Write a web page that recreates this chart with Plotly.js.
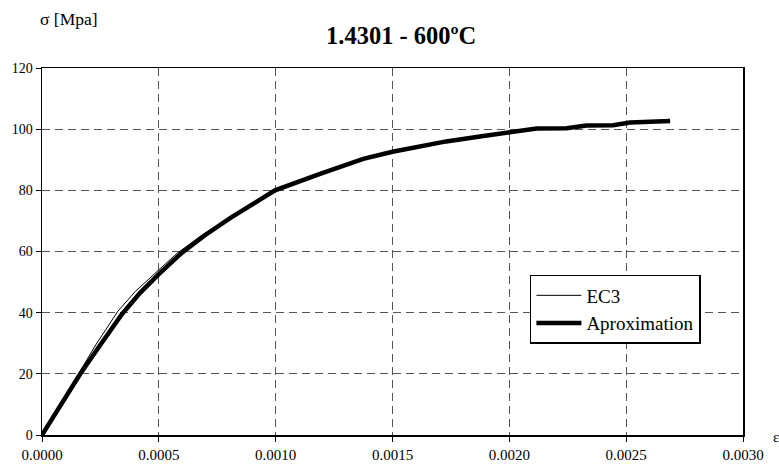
<!DOCTYPE html>
<html>
<head>
<meta charset="utf-8">
<script src="https://cdn.plot.ly/plotly-3.0.1.min.js"></script>
<style>html,body{margin:0;padding:0;background:#fff;}#chart{width:779px;height:469px;}</style>
</head>
<body>
<div id="chart"></div>
<script>
// Strain (ε) and stress (σ, MPa)
var ec3Strain = [0, 0.00008, 0.000164, 0.000232, 0.000325, 0.0004, 0.0005, 0.000578, 0.000685, 0.000805, 0.0009, 0.000997, 0.00119, 0.001375, 0.0015, 0.00166, 0.00173, 0.001874, 0.002003, 0.002117, 0.002245, 0.002331, 0.002444, 0.002516, 0.002688];
var ec3Stress = [0, 10.5, 21, 29.7, 40.5, 47, 54, 59.4, 65.4, 71.1, 75.7, 80, 85.4, 90.3, 92.6, 94.9, 96, 97.6, 99.1, 100.2, 100.3, 101.2, 101.3, 102.2, 102.7];
var apxStrain = [0, 0.00008, 0.000164, 0.00025, 0.000342, 0.00042, 0.0005, 0.000599, 0.000699, 0.000805, 0.0009, 0.000997, 0.00119, 0.001375, 0.0015, 0.00166, 0.00173, 0.001874, 0.002003, 0.002117, 0.002245, 0.002331, 0.002444, 0.002516, 0.002688];
var apxStress = [0, 10, 20, 29.5, 39.5, 46.5, 52.6, 59.6, 65.4, 70.9, 75.6, 80, 85.4, 90.3, 92.6, 94.9, 96, 97.6, 99.1, 100.2, 100.3, 101.2, 101.3, 102.2, 102.7];
var xTicks = [0, 0.0005, 0.001, 0.0015, 0.002, 0.0025, 0.003];
var xTickLabels = ['0.0000', '0.0005', '0.0010', '0.0015', '0.0020', '0.0025', '0.0030'];
var yTicks = [0, 20, 40, 60, 80, 100, 120];

var serif = 'Liberation Serif, serif';
var traces = [
  {x: ec3Strain, y: ec3Stress, mode: 'lines', name: 'EC3', line: {color: '#000', width: 1}},
  {x: apxStrain, y: apxStress, mode: 'lines', name: 'Aproximation', line: {color: '#000', width: 4.5}}
];
var layout = {
  width: 779, height: 469,
  margin: {l: 42, r: 36, t: 68, b: 34},
  paper_bgcolor: '#fff', plot_bgcolor: '#fff',
  font: {family: serif, color: '#000', size: 13},
  showlegend: true,
  legend: {x: 0.696, y: 0.436, xanchor: 'left', yanchor: 'top', bgcolor: '#fff', bordercolor: '#000', borderwidth: 1.5, font: {family: serif, size: 19, color: '#000'}, tracegroupgap: 0, itemwidth: 45},
  xaxis: {range: [0, 0.003], tickvals: xTicks, ticktext: xTickLabels, showline: true, linecolor: '#000', linewidth: 1.5, mirror: true, ticks: 'outside', ticklen: 5, tickcolor: '#000', showgrid: true, gridcolor: '#555', griddash: '8px,5px', gridwidth: 1, zeroline: false, tickfont: {family: serif, size: 15, color: '#000'}},
  yaxis: {range: [0, 120], tickvals: yTicks, showline: true, linecolor: '#000', linewidth: 1.5, mirror: true, ticks: 'outside', ticklen: 5, tickcolor: '#000', showgrid: true, gridcolor: '#555', griddash: '8px,5px', gridwidth: 1, zeroline: false, tickfont: {family: serif, size: 14, color: '#000'}},
  annotations: [
    {text: '<b>1.4301 - 600ºC</b>', xref: 'paper', yref: 'paper', x: 0.5, y: 1, xshift: 8, yshift: 33, xanchor: 'center', yanchor: 'middle', showarrow: false, font: {family: serif, size: 24.5, color: '#000'}},
    {text: 'σ [Mpa]', xref: 'paper', yref: 'paper', x: 0, y: 1, xshift: -4, yshift: 49, xanchor: 'left', yanchor: 'middle', showarrow: false, font: {family: serif, size: 17.5, color: '#000'}},
    {text: 'ε', xref: 'paper', yref: 'paper', x: 1, y: 0, xshift: 28, yshift: -2, xanchor: 'left', yanchor: 'middle', showarrow: false, font: {family: serif, size: 15, color: '#000'}}
  ]
};
Plotly.newPlot('chart', traces, layout, {displayModeBar: false, staticPlot: true});
</script>
</body>
</html>
